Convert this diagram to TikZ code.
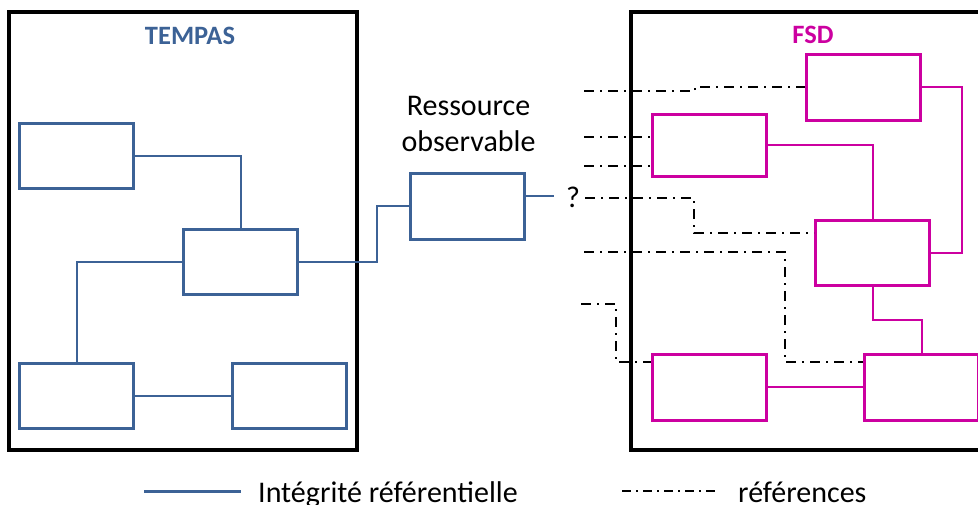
\documentclass[tikz,border=0pt]{standalone}
\usepackage{fontspec}
\setmainfont{Carlito}
\definecolor{tblue}{RGB}{60,98,150}
\definecolor{fmag}{RGB}{204,0,160}
\begin{document}
\begin{tikzpicture}[x=1pt,y=-1pt,
  frame/.style={draw=black,line width=3.5pt},
  bbox/.style={draw=tblue,line width=3pt,rectangle,minimum width=114pt,minimum height=65pt,inner sep=0pt},
  mbox/.style={draw=fmag,line width=3pt,rectangle,minimum width=114pt,minimum height=65pt,inner sep=0pt},
  blink/.style={draw=tblue,line width=2pt},
  mlink/.style={draw=fmag,line width=2pt},
  ref/.style={draw=black,line width=2pt,dash pattern=on 10pt off 6pt on 2pt off 6pt},
  title/.style={font=\fontsize{26.5}{32}\selectfont\bfseries,anchor=base,inner sep=0pt},
  lbl/.style={font=\fontsize{30}{36}\selectfont,inner sep=0pt},
]
\useasboundingbox (0,0) rectangle (978,504);
\clip (0,0) rectangle (978,504);

% frames
\draw[frame] (9,12) rectangle (357,450);
\draw[frame] (631,12) rectangle (995,450);
\node[title,text=tblue] (ttempas) at (190,44) {TEMPAS};
\node[title,text=fmag] (tfsd) at (813,43) {FSD};

% TEMPAS boxes
\node[bbox] (B1) at (76.5,155.5) {};
\node[bbox] (B2) at (240.5,261.5) {};
\node[bbox] (B3) at (76.5,395.5) {};
\node[bbox] (B4) at (289,395.5) {};
\node[bbox,minimum height=66pt] (R) at (467.5,206) {};

\draw[blink] (B1.east) -- (240.5,155.5) -- (B2.north);
\draw[blink] (B2.west) -- (76.5,261.5) -- (B3.north);
\draw[blink] (B3.east) -- (B4.west);
\draw[blink] (B2.east) -- (377,261.5) -- (377,206) -- (R.west);
\coordinate (q1) at (554,196);
\draw[blink] (q1 -| R.east) -- (q1);

\node[lbl,anchor=base] (t1) at (468.5,115) {Ressource};
\node[lbl,anchor=base] (t2) at (468.5,151) {observable};
\node[lbl,anchor=base] (qm) at (573,207) {?};

% FSD boxes
\node[mbox,minimum height=66pt] (M1) at (863.5,87) {};
\node[mbox,minimum height=62pt] (M2) at (709,145) {};
\node[mbox] (M3) at (872.5,252.5) {};
\node[mbox,minimum height=66pt] (M4) at (709,387) {};
\node[mbox,minimum height=66pt] (M5) at (921.5,387) {};

\draw[mlink] (M1.east) -- (962,87) -- (962,252.5) -- (M3.east);
\draw[mlink] (M2.east) -- (872.5,145) -- (M3.north);
\draw[mlink] (M3.south) -- (872.5,320) -- (921.5,320) -- (M5.north);
\draw[mlink] (M4.east) -- (M5.west);

% references
\coordinate (d1) at (584,91);
\coordinate (d2) at (584,137);
\coordinate (d3) at (584,166);
\coordinate (d4) at (585,198);
\coordinate (d5) at (584,252);
\coordinate (d6) at (581,304);
\coordinate (e4) at (0,233);
\coordinate (e5) at (0,362);
\draw[ref] (d1) -- (695,91) -- (695,87) -- (M1.west);
\draw[ref] (d2) -- (d2 -| M2.west);
\draw[ref] (d3) -- (d3 -| M2.west);
\draw[ref] (d4) -- (694,198) -- (694,233) -- (e4 -| M3.west);
\draw[ref] (d5) -- (785,252) -- (785,362) -- (e5 -| M5.west);
\draw[ref] (d6) -- (616,304) -- (616,362) -- (e5 -| M4.west);

% legend
\coordinate (la) at (144,491);
\coordinate (lb) at (241,491);
\draw[tblue,line width=3pt] (la) -- (lb);
\node[lbl,anchor=base west] (lt1) at (258,502) {Intégrité référentielle};
\coordinate (lc) at (622,491);
\coordinate (ld) at (718,491);
\draw[black,line width=2pt,dash pattern=on 9pt off 5pt on 2pt off 5pt] (lc) -- (ld);
\node[lbl,anchor=base west] (lt2) at (738,502) {références};
\end{tikzpicture}
\end{document}
